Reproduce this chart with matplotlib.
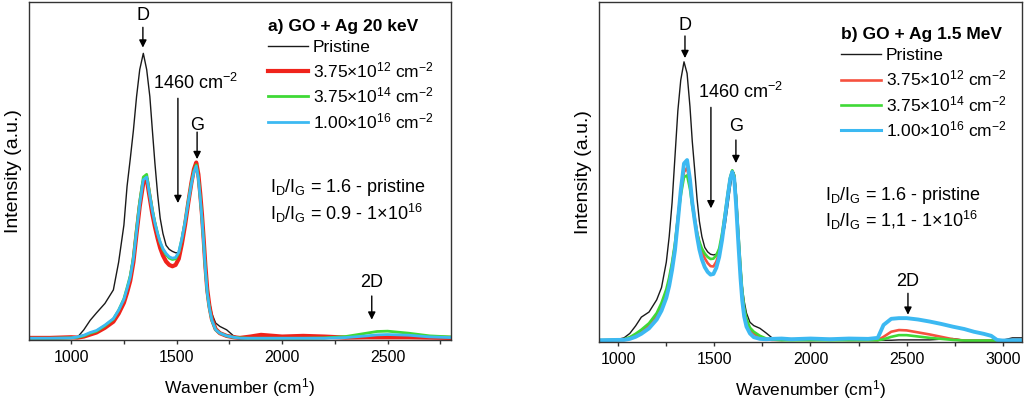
import matplotlib
matplotlib.use("Agg")
import matplotlib.pyplot as plt
from matplotlib.ticker import MultipleLocator

plt.rcParams["font.family"] = ["Liberation Sans", "DejaVu Sans"]
plt.rcParams["mathtext.fontset"] = "custom"
plt.rcParams["mathtext.rm"] = "Liberation Sans"
plt.rcParams["mathtext.it"] = "Liberation Sans:italic"
plt.rcParams["mathtext.bf"] = "Liberation Sans:bold"

# ---- panel a) GO + Ag 20 keV (intensity as fraction of axis height) ----
wn_a = [800, 900, 1000, 1030, 1060, 1090, 1120, 1160, 1200, 1225, 1250, 1265, 1280,
        1295, 1310, 1325, 1342, 1358, 1373, 1385, 1397, 1410, 1422, 1435, 1450, 1465,
        1480, 1495, 1510, 1525, 1540, 1555, 1570, 1582, 1593, 1603, 1612, 1620, 1628,
        1636, 1645, 1655, 1667, 1685, 1705, 1737, 1770, 1800, 1850, 1900, 2000, 2100,
        2200, 2300, 2400, 2450, 2500, 2600, 2700, 2800]
pristine_a = [0.006, 0.006, 0.006, 0.008, 0.030, 0.058, 0.080, 0.108, 0.148, 0.230, 0.340,
              0.455, 0.535, 0.620, 0.720, 0.800, 0.848, 0.800, 0.720, 0.620, 0.523, 0.430,
              0.360, 0.315, 0.280, 0.268, 0.262, 0.258, 0.258, 0.285, 0.340, 0.404, 0.465,
              0.508, 0.523, 0.490, 0.445, 0.385, 0.310, 0.235, 0.160, 0.115, 0.078, 0.050,
              0.040, 0.030, 0.012, 0.007, 0.006, 0.006, 0.006, 0.006, 0.006, 0.006, 0.006,
              0.006, 0.006, 0.006, 0.006, 0.006]
low_a = [0.006, 0.006, 0.008, 0.007, 0.010, 0.016, 0.022, 0.036, 0.054, 0.078, 0.110,
         0.140, 0.175, 0.230, 0.315, 0.395, 0.465, 0.476, 0.418, 0.372, 0.335, 0.300,
         0.272, 0.250, 0.232, 0.222, 0.218, 0.222, 0.240, 0.285, 0.340, 0.405, 0.465,
         0.505, 0.525, 0.490, 0.432, 0.372, 0.300, 0.222, 0.150, 0.102, 0.062, 0.032,
         0.020, 0.012, 0.008, 0.006, 0.010, 0.015, 0.010, 0.012, 0.010, 0.007, 0.008,
         0.008, 0.008, 0.008, 0.007, 0.006]
mid_a = [0.005, 0.005, 0.006, 0.008, 0.012, 0.020, 0.026, 0.042, 0.062, 0.088, 0.122,
         0.155, 0.190, 0.245, 0.330, 0.410, 0.482, 0.490, 0.430, 0.385, 0.348, 0.315,
         0.288, 0.268, 0.252, 0.242, 0.238, 0.240, 0.258, 0.300, 0.350, 0.410, 0.465,
         0.500, 0.518, 0.480, 0.420, 0.360, 0.290, 0.210, 0.140, 0.095, 0.058, 0.030,
         0.020, 0.012, 0.008, 0.006, 0.005, 0.005, 0.005, 0.005, 0.006, 0.010, 0.020,
         0.025, 0.026, 0.020, 0.012, 0.009]
high_a = [0.005, 0.005, 0.006, 0.009, 0.014, 0.022, 0.028, 0.044, 0.063, 0.088, 0.120,
          0.152, 0.186, 0.240, 0.322, 0.402, 0.474, 0.482, 0.426, 0.382, 0.346, 0.314,
          0.290, 0.270, 0.256, 0.246, 0.242, 0.244, 0.260, 0.300, 0.350, 0.408, 0.462,
          0.497, 0.514, 0.478, 0.418, 0.358, 0.288, 0.210, 0.140, 0.095, 0.058, 0.030,
          0.020, 0.012, 0.008, 0.005, 0.005, 0.005, 0.005, 0.005, 0.005, 0.007, 0.012,
          0.015, 0.016, 0.014, 0.009, 0.007]

# ---- panel b) GO + Ag 1.5 MeV ----
wn_b = [900, 1000, 1030, 1060, 1090, 1120, 1160, 1200, 1225, 1250, 1265, 1280, 1295,
        1310, 1325, 1342, 1358, 1373, 1385, 1397, 1410, 1422, 1435, 1450, 1465, 1480,
        1495, 1510, 1525, 1540, 1555, 1570, 1582, 1593, 1603, 1612, 1620, 1628, 1636,
        1645, 1655, 1667, 1685, 1705, 1737, 1770, 1800, 1850, 1900, 2000, 2100, 2200,
        2300, 2350, 2380, 2420, 2460, 2500, 2560, 2620, 2680, 2740, 2800, 2850, 2900,
        2940, 2970, 3000, 3050, 3100]
pristine_b = [0.005, 0.008, 0.012, 0.025, 0.047, 0.073, 0.088, 0.124, 0.160, 0.235, 0.310,
              0.410, 0.545, 0.680, 0.770, 0.824, 0.790, 0.692, 0.590, 0.510, 0.420, 0.355,
              0.310, 0.278, 0.265, 0.258, 0.256, 0.258, 0.270, 0.300, 0.339, 0.400, 0.452,
              0.490, 0.498, 0.457, 0.380, 0.300, 0.230, 0.165, 0.120, 0.085, 0.058, 0.048,
              0.040, 0.026, 0.012, 0.006, 0.005, 0.005, 0.005, 0.005, 0.005, 0.005, 0.005,
              0.005, 0.006, 0.006, 0.006, 0.006, 0.008, 0.010, 0.005, 0.005, 0.005, 0.005,
              0.005, 0.005, 0.012, 0.012]
low_b = [0.005, 0.006, 0.007, 0.012, 0.020, 0.030, 0.048, 0.076, 0.104, 0.145, 0.180,
         0.228, 0.285, 0.365, 0.440, 0.500, 0.512, 0.468, 0.412, 0.368, 0.322, 0.290,
         0.266, 0.246, 0.232, 0.223, 0.222, 0.236, 0.262, 0.310, 0.372, 0.436, 0.482,
         0.503, 0.490, 0.430, 0.358, 0.285, 0.212, 0.142, 0.093, 0.060, 0.036, 0.024,
         0.014, 0.008, 0.006, 0.006, 0.008, 0.006, 0.008, 0.006, 0.006, 0.005, 0.015,
         0.030, 0.035, 0.034, 0.028, 0.022, 0.015, 0.008, 0.004, 0.004, 0.004, 0.004,
         0.004, 0.005, 0.005, 0.005]
mid_b = [0.005, 0.006, 0.008, 0.014, 0.024, 0.036, 0.055, 0.085, 0.115, 0.155, 0.190,
         0.235, 0.290, 0.365, 0.430, 0.485, 0.490, 0.450, 0.400, 0.360, 0.320, 0.295,
         0.275, 0.260, 0.250, 0.244, 0.245, 0.255, 0.275, 0.320, 0.378, 0.440, 0.485,
         0.505, 0.490, 0.430, 0.360, 0.290, 0.220, 0.150, 0.100, 0.068, 0.042, 0.030,
         0.018, 0.010, 0.007, 0.005, 0.005, 0.005, 0.005, 0.005, 0.005, 0.005, 0.008,
         0.015, 0.020, 0.020, 0.016, 0.012, 0.009, 0.006, 0.004, 0.004, 0.004, 0.004,
         0.004, 0.004, 0.004, 0.004]
high_b = [0.005, 0.006, 0.006, 0.009, 0.015, 0.024, 0.040, 0.066, 0.092, 0.130, 0.165,
          0.212, 0.270, 0.355, 0.445, 0.525, 0.535, 0.478, 0.410, 0.360, 0.310, 0.272,
          0.243, 0.220, 0.206, 0.198, 0.200, 0.218, 0.250, 0.300, 0.365, 0.430, 0.478,
          0.500, 0.480, 0.412, 0.335, 0.260, 0.188, 0.122, 0.075, 0.045, 0.025, 0.014,
          0.009, 0.008, 0.009, 0.010, 0.008, 0.010, 0.008, 0.010, 0.009, 0.012, 0.050,
          0.068, 0.070, 0.070, 0.066, 0.060, 0.053, 0.045, 0.038, 0.030, 0.024, 0.018,
          0.006, 0.004, 0.005, 0.005]

fluence_labels = ["Pristine", "3.75×10$^{12}$ cm$^{-2}$", "3.75×10$^{14}$ cm$^{-2}$",
                  "1.00×10$^{16}$ cm$^{-2}$"]
panel_titles = ["a) GO + Ag 20 keV", "b) GO + Ag 1.5 MeV"]
ratio_texts = [
    ["I$_\\mathrm{D}$/I$_\\mathrm{G}$ = 1.6 - pristine",
     "I$_\\mathrm{D}$/I$_\\mathrm{G}$ = 0.9 - 1×10$^{16}$"],
    ["I$_\\mathrm{D}$/I$_\\mathrm{G}$ = 1.6 - pristine",
     "I$_\\mathrm{D}$/I$_\\mathrm{G}$ = 1,1 - 1×10$^{16}$"],
]

colors_a = ["#1a1a1a", "#f0231b", "#3fd936", "#3cb9f2"]
colors_b = ["#1a1a1a", "#f6513f", "#3fd936", "#3cb9f2"]
widths_a = [1.0, 3.0, 2.0, 2.0]
widths_b = [1.0, 1.9, 1.9, 2.8]

fig = plt.figure(figsize=(10.24, 3.99), dpi=100)
ax_a = fig.add_axes([0.0283, 0.148, 0.412, 0.847])
ax_b = fig.add_axes([0.585, 0.143, 0.413, 0.852])


def arrow(ax, x, y_tail, y_tip):
    ax.annotate("", xy=(x, y_tip), xytext=(x, y_tail),
                arrowprops=dict(arrowstyle="-|>", color="black", lw=1.0,
                                mutation_scale=11, shrinkA=0, shrinkB=0))


def setup(ax, wn, series, colors, widths, xlim, title, legend_xy):
    for y, c, w, lab in zip(series, colors, widths, fluence_labels):
        ax.plot(wn, y, color=c, lw=w, label=lab, solid_joinstyle="round")
    ax.set_xlim(*xlim)
    ax.set_ylim(0, 1)
    ax.set_yticks([])
    ax.xaxis.set_major_locator(MultipleLocator(500))
    ax.xaxis.set_minor_locator(MultipleLocator(250))
    ax.tick_params(axis="x", which="both", direction="out", length=3, width=1,
                   labelsize=11.5, pad=4, color="#333333")
    for sp in ax.spines.values():
        sp.set_linewidth(1.0)
        sp.set_color("#333333")
    ax.set_xlabel("Wavenumber (cm$^1$)", fontsize=12.5, labelpad=8)
    ax.set_ylabel("Intensity (a.u.)", fontsize=14, labelpad=5)
    leg = ax.legend(loc="upper left", bbox_to_anchor=legend_xy, frameon=False,
                    title=title, alignment="left", fontsize=12.5,
                    title_fontproperties={"weight": "bold", "size": 12.5},
                    handlelength=2.3, handletextpad=0.3, labelspacing=0.32,
                    borderpad=0, borderaxespad=0)
    for line, w in zip(leg.get_lines(), widths):
        line.set_linewidth(min(w, 2.2) if w < 2.9 else 3.0)


setup(ax_a, wn_a, [pristine_a, low_a, mid_a, high_a], colors_a, widths_a,
      (800, 2800), panel_titles[0], (0.566, 0.95))
setup(ax_b, wn_b, [pristine_b, low_b, mid_b, high_b], colors_b, widths_b,
      (900, 3100), panel_titles[1], (0.572, 0.925))

# annotations, panel a
ax_a.text(1340, 0.96, "D", ha="center", va="center", fontsize=13)
arrow(ax_a, 1340, 0.925, 0.865)
ax_a.text(1590, 0.76, "1460 cm$^{-2}$", ha="center", va="center", fontsize=13)
arrow(ax_a, 1506, 0.715, 0.405)
ax_a.text(1597, 0.636, "G", ha="center", va="center", fontsize=13)
arrow(ax_a, 1597, 0.615, 0.535)
ax_a.text(2425, 0.17, "2D", ha="center", va="center", fontsize=13)
arrow(ax_a, 2425, 0.13, 0.06)
ax_a.text(1942, 0.45, ratio_texts[0][0], ha="left", va="center", fontsize=13)
ax_a.text(1942, 0.375, ratio_texts[0][1], ha="left", va="center", fontsize=13)

# annotations, panel b
ax_b.text(1347, 0.93, "D", ha="center", va="center", fontsize=13)
arrow(ax_b, 1347, 0.9, 0.835)
ax_b.text(1635, 0.735, "1460 cm$^{-2}$", ha="center", va="center", fontsize=13)
arrow(ax_b, 1482, 0.69, 0.393)
ax_b.text(1612, 0.633, "G", ha="center", va="center", fontsize=13)
arrow(ax_b, 1612, 0.594, 0.526)
ax_b.text(2507, 0.177, "2D", ha="center", va="center", fontsize=13)
arrow(ax_b, 2507, 0.143, 0.08)
ax_b.text(2075, 0.432, ratio_texts[1][0], ha="left", va="center", fontsize=13)
ax_b.text(2075, 0.357, ratio_texts[1][1], ha="left", va="center", fontsize=13)

fig.savefig("out.png", dpi=100)
